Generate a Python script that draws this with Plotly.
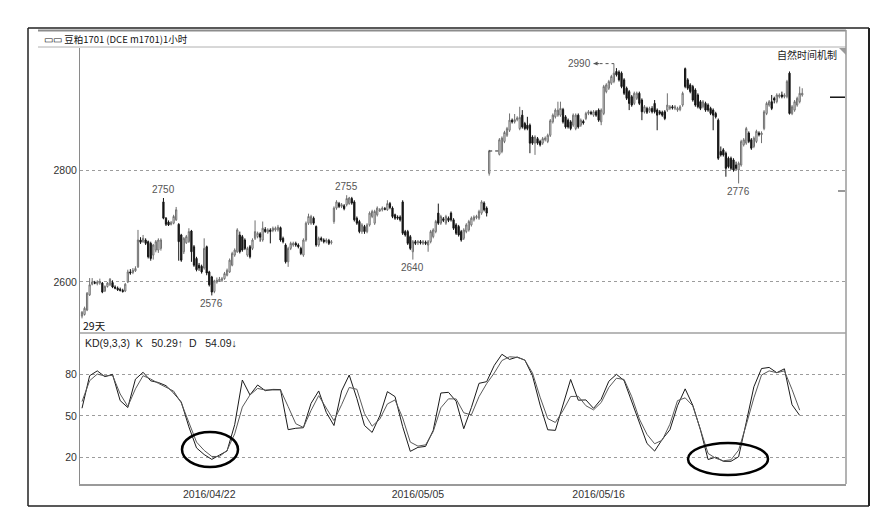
import plotly.graph_objects as go

# ---------------- data ----------------
open_ = [
    2539, 2542, 2550, 2577, 2596, 2599, 2597, 2598, 2598, 2584,
    2592, 2595, 2599, 2591, 2589, 2587, 2585, 2584, 2600, 2618,
    2617, 2620, 2627, 2675, 2672, 2675, 2672, 2669, 2648, 2657,
    2657, 2660, 2743, 2714, 2707, 2703, 2705, 2711, 2703, 2684,
    2654, 2670, 2672, 2691, 2663, 2642, 2630, 2628, 2625, 2663,
    2618, 2609, 2583, 2600, 2602, 2603, 2606, 2612, 2618, 2630,
    2648, 2654, 2684, 2681, 2675, 2648, 2663, 2660, 2678, 2681,
    2686, 2675, 2694, 2689, 2693, 2692, 2693, 2693, 2697, 2678,
    2666, 2636, 2660, 2666, 2669, 2666, 2660, 2648, 2675, 2705,
    2705, 2714, 2699, 2666, 2678, 2675, 2672, 2674, 2670, 2708,
    2732, 2740, 2735, 2736, 2738, 2740, 2749, 2743, 2714, 2708,
    2690, 2699, 2690, 2702, 2717, 2705, 2720, 2727, 2729, 2731,
    2729, 2740, 2732, 2720, 2716, 2716, 2743, 2690, 2690, 2681,
    2654, 2672, 2670, 2672, 2669, 2671, 2666, 2672, 2681, 2690,
    2723, 2705, 2713, 2705, 2714, 2723, 2711, 2702, 2699, 2690,
    2678, 2690, 2693, 2702, 2711, 2715, 2714, 2723, 2741, 2732,
    2794,
    2828, 2833, 2851, 2862, 2871, 2889, 2886, 2890, 2874, 2898,
    2883, 2880, 2880, 2859, 2848, 2856, 2851, 2848, 2854, 2851,
    2862, 2886, 2895, 2898, 2898, 2908, 2895, 2889, 2886, 2880,
    2874, 2898, 2880, 2887, 2892, 2901, 2903, 2898, 2904, 2907,
    2886, 2901, 2940, 2946, 2955, 2958, 2976, 2975, 2973, 2961,
    2946, 2940, 2931, 2919, 2928, 2937, 2925, 2904, 2910, 2905,
    2910, 2919, 2907, 2904, 2903, 2904, 2907, 2910, 2913, 2910,
    2907, 2908, 2916, 2981, 2961, 2952, 2949, 2943, 2934, 2922,
    2913, 2919, 2916, 2910, 2907, 2901, 2889, 2833, 2836, 2830,
    2821, 2821, 2818, 2809, 2800, 2809, 2845, 2848, 2866, 2854,
    2842, 2851, 2866, 2863, 2874, 2901, 2916, 2922, 2928, 2922,
    2931, 2934, 2931, 2931, 2973, 2901, 2907, 2916, 2922, 2934,
]
high = [
    2548, 2556, 2582, 2607, 2607, 2602, 2603, 2606, 2600, 2594,
    2600, 2607, 2603, 2594, 2592, 2590, 2588, 2598, 2622, 2623,
    2625, 2628, 2693, 2680, 2684, 2678, 2674, 2672, 2668, 2675,
    2678, 2678, 2750, 2716, 2710, 2709, 2720, 2734, 2705, 2686,
    2680, 2684, 2696, 2693, 2666, 2645, 2634, 2631, 2678, 2665,
    2620, 2611, 2604, 2608, 2609, 2609, 2618, 2624, 2642, 2654,
    2660, 2696, 2690, 2684, 2678, 2663, 2666, 2678, 2710, 2690,
    2689, 2708, 2698, 2696, 2696, 2699, 2699, 2702, 2699, 2681,
    2669, 2663, 2672, 2672, 2672, 2669, 2663, 2678, 2708, 2722,
    2720, 2717, 2701, 2681, 2681, 2678, 2678, 2677, 2675, 2735,
    2746, 2743, 2741, 2739, 2755, 2752, 2752, 2746, 2717, 2711,
    2705, 2702, 2705, 2726, 2729, 2729, 2735, 2732, 2735, 2734,
    2746, 2743, 2735, 2722, 2719, 2719, 2746, 2693, 2693, 2684,
    2675, 2675, 2675, 2675, 2675, 2674, 2675, 2693, 2696, 2711,
    2740, 2720, 2716, 2720, 2717, 2726, 2714, 2705, 2702, 2693,
    2696, 2705, 2711, 2717, 2719, 2720, 2729, 2746, 2744, 2735,
    2836,
    2857, 2860, 2870, 2877, 2901, 2892, 2900, 2896, 2913, 2907,
    2886, 2895, 2883, 2862, 2862, 2859, 2854, 2859, 2860, 2865,
    2891, 2901, 2910, 2922, 2922, 2911, 2898, 2892, 2889, 2901,
    2901, 2901, 2892, 2890, 2904, 2907, 2906, 2907, 2907, 2910,
    2910, 2952, 2955, 2961, 2970, 2990, 2982, 2978, 2976, 2964,
    2949, 2943, 2934, 2940, 2940, 2940, 2928, 2916, 2913, 2913,
    2914, 2925, 2910, 2907, 2906, 2907, 2937, 2916, 2916, 2916,
    2913, 2916, 2940, 2983, 2964, 2955, 2952, 2946, 2937, 2925,
    2925, 2922, 2919, 2913, 2910, 2904, 2892, 2842, 2839, 2833,
    2824, 2824, 2821, 2815, 2815, 2854, 2857, 2877, 2869, 2857,
    2860, 2872, 2869, 2869, 2907, 2922, 2925, 2934, 2931, 2937,
    2937, 2940, 2937, 2961, 2976, 2916, 2925, 2931, 2949, 2946,
]
low = [
    2535, 2540, 2548, 2575, 2594, 2596, 2594, 2595, 2580, 2582,
    2590, 2593, 2589, 2587, 2584, 2583, 2581, 2582, 2598, 2613,
    2614, 2618, 2625, 2668, 2670, 2666, 2642, 2638, 2640, 2653,
    2652, 2656, 2712, 2700, 2700, 2701, 2703, 2709, 2638, 2636,
    2650, 2668, 2670, 2636, 2627, 2619, 2620, 2615, 2622, 2612,
    2592, 2576, 2580, 2597, 2600, 2600, 2604, 2610, 2616, 2628,
    2645, 2652, 2651, 2654, 2657, 2645, 2642, 2657, 2675, 2678,
    2672, 2672, 2688, 2686, 2669, 2689, 2690, 2690, 2672, 2669,
    2633, 2627, 2657, 2663, 2663, 2660, 2648, 2645, 2672, 2702,
    2702, 2702, 2663, 2663, 2672, 2669, 2669, 2666, 2667, 2704,
    2729, 2732, 2732, 2728, 2735, 2738, 2738, 2708, 2702, 2687,
    2686, 2686, 2687, 2699, 2714, 2702, 2717, 2725, 2726, 2728,
    2727, 2730, 2714, 2711, 2711, 2708, 2684, 2681, 2666, 2657,
    2640, 2666, 2666, 2667, 2666, 2666, 2654, 2669, 2678, 2687,
    2702, 2702, 2707, 2702, 2707, 2708, 2693, 2684, 2681, 2672,
    2675, 2687, 2690, 2699, 2708, 2712, 2711, 2720, 2726, 2717,
    2790,
    2826, 2830, 2848, 2859, 2868, 2883, 2883, 2887, 2871, 2874,
    2871, 2871, 2830, 2845, 2827, 2845, 2842, 2845, 2851, 2848,
    2859, 2883, 2892, 2895, 2895, 2883, 2874, 2874, 2871, 2877,
    2871, 2874, 2877, 2881, 2889, 2898, 2898, 2895, 2895, 2886,
    2880, 2898, 2937, 2943, 2952, 2955, 2967, 2958, 2946, 2934,
    2925, 2907, 2913, 2916, 2925, 2916, 2889, 2901, 2900, 2902,
    2901, 2901, 2871, 2898, 2895, 2889, 2904, 2907, 2908, 2907,
    2904, 2905, 2913, 2946, 2943, 2937, 2922, 2913, 2910, 2907,
    2910, 2904, 2904, 2898, 2871, 2892, 2818, 2824, 2824, 2788,
    2803, 2800, 2797, 2800, 2776, 2806, 2842, 2845, 2848, 2836,
    2839, 2848, 2860, 2848, 2871, 2898, 2913, 2907, 2919, 2919,
    2928, 2928, 2928, 2928, 2899, 2898, 2904, 2913, 2919, 2931,
]
close = [
    2546, 2553, 2580, 2595, 2600, 2598, 2600, 2601, 2582, 2592,
    2598, 2605, 2591, 2589, 2586, 2585, 2583, 2596, 2618, 2616,
    2621, 2624, 2675, 2671, 2678, 2669, 2645, 2642, 2666, 2672,
    2675, 2675, 2714, 2703, 2702, 2706, 2717, 2729, 2672, 2639,
    2678, 2681, 2690, 2654, 2630, 2622, 2625, 2618, 2660, 2616,
    2595, 2582, 2602, 2603, 2605, 2606, 2615, 2621, 2639, 2651,
    2657, 2693, 2654, 2657, 2660, 2660, 2645, 2675, 2690, 2687,
    2680, 2696, 2690, 2693, 2690, 2696, 2696, 2698, 2675, 2672,
    2636, 2660, 2669, 2669, 2666, 2663, 2651, 2675, 2705, 2717,
    2717, 2705, 2666, 2678, 2675, 2672, 2675, 2669, 2672, 2732,
    2743, 2735, 2738, 2731, 2749, 2750, 2741, 2711, 2705, 2690,
    2702, 2690, 2702, 2723, 2726, 2726, 2732, 2729, 2732, 2730,
    2740, 2733, 2717, 2714, 2714, 2711, 2687, 2684, 2669, 2660,
    2672, 2669, 2672, 2670, 2672, 2669, 2672, 2690, 2693, 2708,
    2705, 2717, 2710, 2717, 2710, 2711, 2696, 2687, 2684, 2675,
    2693, 2702, 2708, 2714, 2716, 2717, 2726, 2743, 2729, 2723,
    2834,
    2854, 2857, 2867, 2874, 2889, 2886, 2890, 2893, 2894, 2877,
    2874, 2874, 2848, 2848, 2859, 2848, 2845, 2856, 2857, 2862,
    2888, 2898, 2907, 2907, 2910, 2886, 2877, 2877, 2874, 2898,
    2898, 2877, 2889, 2884, 2901, 2904, 2901, 2904, 2898, 2889,
    2907, 2949, 2952, 2958, 2967, 2973, 2970, 2961, 2949, 2937,
    2928, 2919, 2916, 2937, 2937, 2919, 2904, 2913, 2903, 2910,
    2904, 2904, 2898, 2901, 2898, 2892, 2916, 2913, 2911, 2913,
    2910, 2913, 2937, 2949, 2946, 2940, 2925, 2916, 2913, 2910,
    2922, 2907, 2907, 2901, 2898, 2895, 2821, 2827, 2827, 2803,
    2806, 2803, 2800, 2803, 2812, 2851, 2854, 2874, 2851, 2839,
    2857, 2869, 2863, 2866, 2904, 2919, 2922, 2910, 2925, 2934,
    2934, 2931, 2934, 2958, 2901, 2913, 2922, 2928, 2937, 2937,
]
BARS_BEFORE_GAP = 161      # bars drawn before the natural-time gap
GAP_BARS = 3               # empty bar slots in the gap

# KD(9,3,3) read every 3rd bar
KD_STEP = 3
k_vals = [
    55.5, 79, 82.5, 78.3, 80, 61, 56, 76.5, 81.5, 75.3,
    74.1, 71.8, 66.5, 60, 42, 26.8, 22, 18.5, 21.6, 24.6,
    43.6, 75.9, 65.1, 72.3, 68.2, 69.1, 69, 40, 41, 41.4,
    59, 68, 52.4, 43, 68, 79.5, 62.5, 43, 38, 50,
    67.5, 63.9, 42.2, 24.3, 27.2, 27.9, 39.5, 66.5, 67, 60.5,
    40.7, 56, 73.5, 74.7, 86.5, 94.5, 90.8, 92.5, 90.3, 79,
    57.8, 39.9, 39.5, 58.7, 76.3, 61.3, 61.5, 55.4, 62, 75,
    80, 75.5, 60, 44, 30, 24.5, 33, 39.9, 57.3, 69.5,
    57.6, 39.9, 18.4, 20.1, 17.1, 17.1, 20.4, 45.3, 71, 84.2,
    85, 81.2, 84, 58, 50.29,
]
d_vals = [
    60.3, 75.4, 80.2, 78.8, 79.3, 65.8, 56.8, 69.5, 79, 76.6,
    73.5, 70.7, 67.9, 59.4, 45.3, 31, 25, 20.6, 20.6, 25,
    37, 56.3, 65.1, 69.8, 68.7, 68.7, 68.7, 56.7, 44.3, 41.6,
    53.9, 64.6, 55.7, 46.5, 58, 70.5, 69.2, 51.6, 42.5, 47.6,
    58.6, 61.5, 48.5, 31, 28.1, 29, 38.6, 55.8, 62.3, 62.2,
    52.2, 50.7, 63.9, 73.3, 81, 90, 92.7, 92.3, 90.3, 81,
    63.5, 48, 45.2, 53.8, 64, 64.1, 57.3, 54.3, 59.6, 70.5,
    77.2, 76.3, 63.9, 47.7, 36.6, 29.8, 32.4, 43.9, 61, 63,
    57.2, 40.2, 22.8, 19.3, 17.5, 18.2, 25.2, 43.5, 63, 79.5,
    82.5, 81.2, 82.5, 69, 54.09,
]

date_labels = ["2016/04/22", "2016/05/05", "2016/05/16"]
date_bars = [50, 132, 203]
price_ticks = [2600, 2800]
kd_ticks = [20, 50, 80]

extreme_pos = [32, 51, 104, 130, 206, 255]
extreme_kind = ["high", "low", "high", "low", "high_left", "low"]

# ---------------- geometry (pixels) ----------------
W, H = 891, 520
PL, PR, PT, PB = 80, 846, 48, 484
SEP = 333
PX_PER_BAR = 2.545
FIRST_BAR_PX = 82


def px_x(px):
    return (px - PL) / (PR - PL)


def px_y(py):
    return (PB - py) / (PB - PT)


n = len(close)
bar_x = list(range(BARS_BEFORE_GAP)) + list(
    range(BARS_BEFORE_GAP + GAP_BARS, n + GAP_BARS))
kd_x = list(range(0, KD_STEP * len(k_vals), KD_STEP))

x0 = -(FIRST_BAR_PX - PL) / PX_PER_BAR
x_range = [x0, x0 + (PR - PL) / PX_PER_BAR]
kd_dom = (PB - SEP) / (PB - PT)

FONT = "Liberation Sans, Arial, sans-serif"
CJK = "Noto Sans CJK SC, sans-serif"

fig = go.Figure()
fig.add_trace(go.Candlestick(
    x=bar_x, open=open_, high=high, low=low, close=close,
    xaxis="x", yaxis="y", whiskerwidth=0,
    increasing=dict(line=dict(color="#707070", width=1), fillcolor="#ffffff"),
    decreasing=dict(line=dict(color="#141414", width=1), fillcolor="#141414"),
    hoverinfo="skip", showlegend=False,
))
fig.add_trace(go.Scatter(x=kd_x, y=k_vals, mode="lines", xaxis="x2", yaxis="y2",
                         line=dict(color="#1a1a1a", width=1), showlegend=False,
                         hoverinfo="skip"))
fig.add_trace(go.Scatter(x=kd_x, y=d_vals, mode="lines", xaxis="x2", yaxis="y2",
                         line=dict(color="#5a5a5a", width=1), showlegend=False,
                         hoverinfo="skip"))

tickfont = dict(family=FONT, size=10.5, color="#333333")
fig.update_layout(
    width=W, height=H, autosize=False,
    margin=dict(l=PL, r=W - PR, t=PT, b=H - PB, pad=0),
    paper_bgcolor="white", plot_bgcolor="white",
    showlegend=False,
    xaxis=dict(domain=[0, 1], range=x_range, anchor="y", showticklabels=False,
               showgrid=False, zeroline=False, ticks="", showline=False,
               rangeslider=dict(visible=False)),
    xaxis2=dict(domain=[0, 1], range=x_range, anchor="y2", matches="x",
                tickvals=date_bars, ticktext=date_labels, tickfont=tickfont,
                showgrid=False, zeroline=False, ticks="", showline=True,
                linecolor="#9a9a9a", linewidth=1.5),
    yaxis=dict(domain=[kd_dom, 1], range=[2508.9, 3017.9], tickvals=price_ticks,
               tickfont=tickfont, showgrid=True, gridcolor="#9c9c9c",
               griddash="dot", gridwidth=1, zeroline=False, ticks="",
               showline=True, linecolor="#8a8a8a", linewidth=1),
    yaxis2=dict(domain=[0, kd_dom], range=[0.7, 109.9], tickvals=kd_ticks,
                tickfont=tickfont, showgrid=True, gridcolor="#9c9c9c",
                griddash="dot", gridwidth=1, zeroline=False, ticks="",
                showline=True, linecolor="#8a8a8a", linewidth=1),
)

shapes = []
# frame lines
shapes.append(dict(type="line", xref="paper", yref="paper", x0=px_x(38), x1=px_x(PR),
                   y0=px_y(30.5), y1=px_y(30.5), line=dict(color="#8c8c8c", width=2)))
shapes.append(dict(type="line", xref="paper", yref="paper", x0=px_x(38), x1=px_x(PR),
                   y0=px_y(47), y1=px_y(47), line=dict(color="#b0b0b0", width=1)))
shapes.append(dict(type="line", xref="paper", yref="paper", x0=px_x(PR), x1=px_x(PR),
                   y0=px_y(30), y1=px_y(PB), line=dict(color="#9a9a9a", width=1.5)))
shapes.append(dict(type="line", xref="paper", yref="paper", x0=0, x1=px_x(PR),
                   y0=px_y(SEP), y1=px_y(SEP), line=dict(color="#a0a0a0", width=1.5)))
shapes.append(dict(type="line", xref="paper", yref="paper", x0=px_x(869), x1=px_x(869),
                   y0=px_y(28), y1=px_y(506), line=dict(color="#222222", width=2)))
shapes.append(dict(type="line", xref="paper", yref="paper", x0=px_x(28), x1=px_x(869),
                   y0=px_y(506), y1=px_y(506), line=dict(color="#222222", width=1.5)))
shapes.append(dict(type="line", xref="paper", yref="paper", x0=px_x(28), x1=px_x(28),
                   y0=px_y(28), y1=px_y(506), line=dict(color="#222222", width=1.5)))
shapes.append(dict(type="line", xref="paper", yref="paper", x0=px_x(28), x1=px_x(869),
                   y0=px_y(28), y1=px_y(28), line=dict(color="#222222", width=1.5)))
# corner triangle
shapes.append(dict(type="path", xref="paper", yref="paper",
                   path=f"M {px_x(839)},{px_y(48)} L {px_x(846)},{px_y(48)} L {px_x(846)},{px_y(55)} Z",
                   fillcolor="#9a9a9a", line=dict(width=0)))
# natural-time gap connector
shapes.append(dict(type="line", xref="x", yref="y",
                   x0=bar_x[BARS_BEFORE_GAP - 1], x1=bar_x[BARS_BEFORE_GAP],
                   y0=close[BARS_BEFORE_GAP - 1], y1=close[BARS_BEFORE_GAP - 1],
                   line=dict(color="#222222", width=1, dash="dot")))
# last price marker at right edge
shapes.append(dict(type="line", xref="paper", yref="y", x0=px_x(830), x1=px_x(845),
                   y0=close[-1] - 7, y1=close[-1] - 7, line=dict(color="#111111", width=1.5)))
shapes.append(dict(type="line", xref="paper", yref="paper", x0=px_x(838), x1=px_x(845),
                   y0=px_y(191), y1=px_y(191), line=dict(color="#777777", width=1.5)))
# highlight ellipses in KD panel
shapes.append(dict(type="circle", xref="paper", yref="paper",
                   x0=px_x(182), x1=px_x(238), y0=px_y(467), y1=px_y(432),
                   line=dict(color="#000000", width=2.5)))
shapes.append(dict(type="circle", xref="paper", yref="paper",
                   x0=px_x(688), x1=px_x(768), y0=px_y(475), y1=px_y(443),
                   line=dict(color="#000000", width=2.5)))

annotations = []
labfont = dict(family=FONT, size=10, color="#555555")
for pos, kind in zip(extreme_pos, extreme_kind):
    xb = bar_x[pos]
    if kind == "high":
        annotations.append(dict(x=xb, y=high[pos], xref="x", yref="y", text=str(high[pos]),
                                showarrow=False, yshift=9, font=labfont))
    elif kind == "low":
        annotations.append(dict(x=xb, y=low[pos], xref="x", yref="y", text=str(low[pos]),
                                showarrow=False, yshift=-8, font=labfont))
    else:
        left = xb - 8
        shapes.append(dict(type="line", xref="x", yref="y", x0=left, x1=xb,
                           y0=high[pos], y1=high[pos],
                           line=dict(color="#555555", width=1, dash="dot")))
        annotations.append(dict(x=left, y=high[pos], xref="x", yref="y", text="",
                                showarrow=True, ax=7, ay=0, arrowhead=2, arrowsize=0.8,
                                arrowwidth=1, arrowcolor="#555555"))
        annotations.append(dict(x=left, y=high[pos], xref="x", yref="y", text=str(high[pos]),
                                showarrow=False, xanchor="right", xshift=-1, font=labfont))

annotations.append(dict(x=px_x(42), y=px_y(39), xref="paper", yref="paper",
                        text="▭▭ 豆粕1701 (DCE m1701)1小时", showarrow=False,
                        xanchor="left", yanchor="middle",
                        font=dict(family=CJK, size=9.5, color="#111111")))
annotations.append(dict(x=px_x(839), y=px_y(54), xref="paper", yref="paper",
                        text="自然时间机制", showarrow=False, xanchor="right",
                        yanchor="middle", font=dict(family=CJK, size=10, color="#222222")))
annotations.append(dict(x=px_x(81), y=px_y(325), xref="paper", yref="paper",
                        text="29天", showarrow=False, xanchor="left", yanchor="middle",
                        font=dict(family=CJK, size=10.5, color="#111111")))
annotations.append(dict(x=px_x(83), y=px_y(343), xref="paper", yref="paper",
                        text=f"KD(9,3,3)  K   {k_vals[-1]:.2f}↑  D   {d_vals[-1]:.2f}↓",
                        showarrow=False, xanchor="left", yanchor="middle",
                        font=dict(family=FONT, size=10.5, color="#222222")))

fig.update_layout(shapes=shapes, annotations=annotations)
fig.write_html("out.html", config={"displayModeBar": False},
               post_script="document.body.style.margin='0';")
